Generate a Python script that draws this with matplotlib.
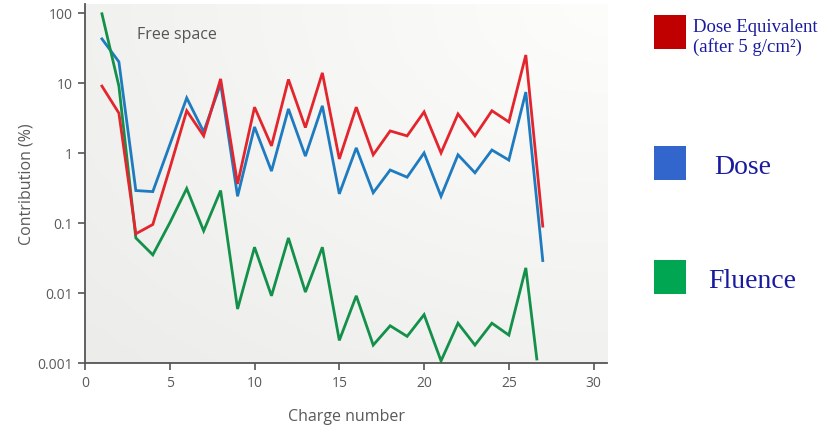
import matplotlib

matplotlib.use("Agg")
import matplotlib.pyplot as plt
import numpy as np
from matplotlib.colors import LinearSegmentedColormap

charge = list(range(1, 28))
dose_equivalent = [9.0, 3.7, 0.07, 0.095, 0.6, 4.0, 1.75, 11.4, 0.36, 4.5, 1.26, 11.2, 2.3,
                   13.9, 0.82, 4.5, 0.94, 2.06, 1.75, 3.85, 1.0, 3.6, 1.75, 4.0, 2.77, 25.0, 0.09]
dose = [42.5, 20.0, 0.29, 0.28, 1.3, 6.1, 2.0, 9.7, 0.24, 2.35, 0.55, 4.25, 0.9,
        4.7, 0.26, 1.18, 0.27, 0.57, 0.45, 1.0, 0.24, 0.94, 0.52, 1.1, 0.79, 7.4, 0.029]
fluence_charge = list(range(1, 27)) + [26.65]
fluence = [97.0, 9.0, 0.061, 0.035, 0.1, 0.31, 0.077, 0.29, 0.0059, 0.045, 0.0091, 0.061, 0.0103,
           0.045, 0.0021, 0.0091, 0.0018, 0.0034, 0.0024, 0.0049, 0.00107, 0.0037, 0.0018,
           0.0037, 0.0025, 0.0228, 0.00114]

x_ticks = [0, 5, 10, 15, 20, 25, 30]
y_ticks = [0.001, 0.01, 0.1, 1, 10, 100]
y_tick_labels = ["0.001", "0.01", "0.1", "1", "10", "100"]

legend_colors = ["#c00000", "#3366cc", "#00a651"]
legend_labels = ["Dose Equivalent\n(after 5 g/cm²)", "Dose", "Fluence"]

AXIS_GRAY = "#555555"
TEXT_GRAY = "#5a5a5a"

fig = plt.figure(figsize=(8.25, 4.31), dpi=100)
ax = fig.add_axes([0.103, 0.1555, 0.633, 0.833])

# soft gradient background behind the plot
bg_cmap = LinearSegmentedColormap.from_list("bg", ["#fdfdfc", "#ececea"])
gx, gy = np.meshgrid(np.linspace(0, 1, 200), np.linspace(0, 1, 200))
grad = np.sqrt((gx - 1.0) ** 2 + (gy - 1.0) ** 2) / np.sqrt(2)
ax.imshow(grad, cmap=bg_cmap, vmin=0, vmax=1, origin="lower", extent=[0, 1, 0, 1],
          transform=ax.transAxes, aspect="auto", zorder=0, interpolation="bilinear")

lw = 2.0
ax.plot(charge, dose_equivalent, color="#e3262d", lw=lw, zorder=3, solid_joinstyle="miter")
ax.plot(charge, dose, color="#1f7bc0", lw=lw, zorder=2, solid_joinstyle="miter")
ax.plot(fluence_charge, fluence, color="#13904a", lw=lw, zorder=2, solid_joinstyle="miter")

ax.set_yscale("log")
ax.set_xlim(0, 30.8)
ax.set_ylim(0.001, 134)
ax.set_xticks(x_ticks)
ax.set_yticks(y_ticks)
ax.set_yticklabels(y_tick_labels)
ax.minorticks_off()

for side in ("top", "right"):
    ax.spines[side].set_visible(False)
for side in ("left", "bottom"):
    ax.spines[side].set_color(AXIS_GRAY)
    ax.spines[side].set_linewidth(1.3)
ax.tick_params(direction="out", length=5, width=1.2, color=AXIS_GRAY,
               labelcolor=TEXT_GRAY, labelsize=10)
for lab in ax.get_xticklabels() + ax.get_yticklabels():
    lab.set_family("Open Sans")

ax.set_xlabel("Charge number", family="Open Sans", fontsize=11.5, color=TEXT_GRAY, labelpad=13)
ax.set_ylabel("Contribution (%)", family="Open Sans", fontsize=11.5, color=TEXT_GRAY, labelpad=2)
ax.text(0.10, 0.915, "Free space", transform=ax.transAxes, family="Open Sans",
        fontsize=11.5, color="#555555", va="center")

# legend on the right: coloured squares with serif labels
square_y = [0.925, 0.62, 0.355]
for color, yc in zip(legend_colors, square_y):
    fig.patches.append(plt.Rectangle((0.793, yc - 0.04), 0.039, 0.079, transform=fig.transFigure,
                                     facecolor=color, edgecolor="none"))
text_kw = dict(family="Liberation Serif", color="#1a1aa0", va="center")
fig.text(0.840, 0.912, legend_labels[0], fontsize=13.5, linespacing=1.15, **text_kw)
fig.text(0.866, 0.612, legend_labels[1], fontsize=20, **text_kw)
fig.text(0.859, 0.346, legend_labels[2], fontsize=20, **text_kw)

fig.savefig("out.png", dpi=100)
plt.close(fig)
